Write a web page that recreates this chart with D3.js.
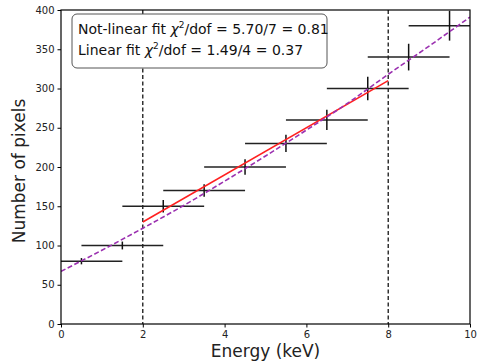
<!DOCTYPE html>
<html>
<head>
<meta charset="utf-8">
<script src="https://cdn.jsdelivr.net/npm/d3@7"></script>
<style>
  body { margin: 0; background: #fff; }
  text { font-family: "DejaVu Sans", sans-serif; }
</style>
</head>
<body>
<div id="chart"></div>
<script>
// data
var energy = [0.5, 1.5, 2.5, 3.5, 4.5, 5.5, 6.5, 7.5, 8.5, 9.5];
var counts = [80, 100, 150, 170, 200, 230, 260, 300, 340, 380];
var countErr = [4, 5, 8, 8, 10, 11, 13, 15, 17, 19];
var energyErr = 1;

var linX = [2, 8];
var linY = [130, 310];

var curveX = [0, 1, 2, 3, 4, 5, 6, 7, 8, 9, 10];
var curveY = [67, 94, 122, 151, 182, 214, 247, 281, 318, 354, 391];

var cutLines = [2, 8];
var xTicks = [0, 2, 4, 6, 8, 10];
var yTicks = [0, 50, 100, 150, 200, 250, 300, 350, 400];

var svgWidth = 477, svgHeight = 362;
var margin = { top: 10, right: 7, bottom: 38, left: 61 };
var width = svgWidth - margin.left - margin.right;
var height = svgHeight - margin.top - margin.bottom;

var svg = d3.select("#chart").append("svg")
  .attr("width", svgWidth)
  .attr("height", svgHeight);

var g = svg.append("g")
  .attr("transform", `translate(${margin.left}, ${margin.top})`);

var x = d3.scaleLinear().domain([0, 10]).range([0, width]);
var y = d3.scaleLinear().domain([0, 400]).range([height, 0]);

svg.append("defs").append("clipPath").attr("id", "clip")
  .append("rect").attr("width", width).attr("height", height);

var plot = g.append("g").attr("clip-path", "url(#clip)");

// vertical cut lines
plot.selectAll(".cut").data(cutLines).enter().append("line")
  .attr("x1", d => x(d)).attr("x2", d => x(d))
  .attr("y1", 0).attr("y2", height)
  .attr("stroke", "#000").attr("stroke-width", 1.2)
  .attr("stroke-dasharray", "4,2.5");

// error bars
var pts = energy.map((e, i) => ({ e: e, c: counts[i], err: countErr[i] }));
plot.selectAll(".xerr").data(pts).enter().append("line")
  .attr("x1", d => x(d.e - energyErr)).attr("x2", d => x(d.e + energyErr))
  .attr("y1", d => y(d.c)).attr("y2", d => y(d.c))
  .attr("stroke", "#222").attr("stroke-width", 1.5);
plot.selectAll(".yerr").data(pts).enter().append("line")
  .attr("x1", d => x(d.e)).attr("x2", d => x(d.e))
  .attr("y1", d => y(d.c - d.err)).attr("y2", d => y(d.c + d.err))
  .attr("stroke", "#111").attr("stroke-width", 1.5);

// linear fit
var line = d3.line().x(d => x(d[0])).y(d => y(d[1]));
plot.append("path")
  .datum(linX.map((v, i) => [v, linY[i]]))
  .attr("d", line)
  .attr("fill", "none").attr("stroke", "#ff2020").attr("stroke-width", 1.6);

// non-linear fit
plot.append("path")
  .datum(curveX.map((v, i) => [v, curveY[i]]))
  .attr("d", line.curve(d3.curveMonotoneX))
  .attr("fill", "none").attr("stroke", "#9b30b0").attr("stroke-width", 1.6)
  .attr("stroke-dasharray", "5,2.5");

// axes
var xAxis = g.append("g")
  .attr("transform", `translate(0, ${height})`)
  .call(d3.axisBottom(x).tickValues(xTicks).tickSize(3.5).tickPadding(3));
var yAxis = g.append("g")
  .call(d3.axisLeft(y).tickValues(yTicks).tickSize(3.5).tickPadding(3));
[xAxis, yAxis].forEach(a => {
  a.select(".domain").remove();
  a.selectAll("text").attr("font-size", 10).attr("fill", "#222")
    .attr("font-family", "DejaVu Sans, sans-serif");
  a.selectAll("line").attr("stroke", "#000").attr("stroke-width", 1);
});

// frame
g.append("rect").attr("width", width).attr("height", height)
  .attr("fill", "none").attr("stroke", "#000").attr("stroke-width", 1.2);

// axis labels
g.append("text")
  .attr("x", width / 2).attr("y", height + 33)
  .attr("text-anchor", "middle").attr("font-size", 17).attr("fill", "#222")
  .text("Energy (keV)");
g.append("text")
  .attr("transform", "rotate(-90)")
  .attr("x", -(height / 2 + 4)).attr("y", -36)
  .attr("text-anchor", "middle").attr("font-size", 17).attr("fill", "#222")
  .text("Number of pixels");

// fit info box
var box = g.append("g").attr("transform", "translate(11, 4)");
box.append("rect").attr("width", 255).attr("height", 54)
  .attr("rx", 5).attr("fill", "#fff").attr("stroke", "#555").attr("stroke-width", 1);
var lines = [
  ["Not-linear fit ", "/dof = 5.70/7 = 0.81"],
  ["Linear fit ", "/dof = 1.49/4 = 0.37"]
];
lines.forEach((l, i) => {
  var t = box.append("text").attr("x", 6).attr("y", 20 + i * 21)
    .attr("font-size", 14).attr("fill", "#111");
  t.append("tspan").text(l[0]);
  t.append("tspan").attr("font-style", "italic").text("χ");
  t.append("tspan").attr("font-size", 9).attr("dy", -6).text("2");
  t.append("tspan").attr("dy", 6).text(l[1]);
});
</script>
</body>
</html>
